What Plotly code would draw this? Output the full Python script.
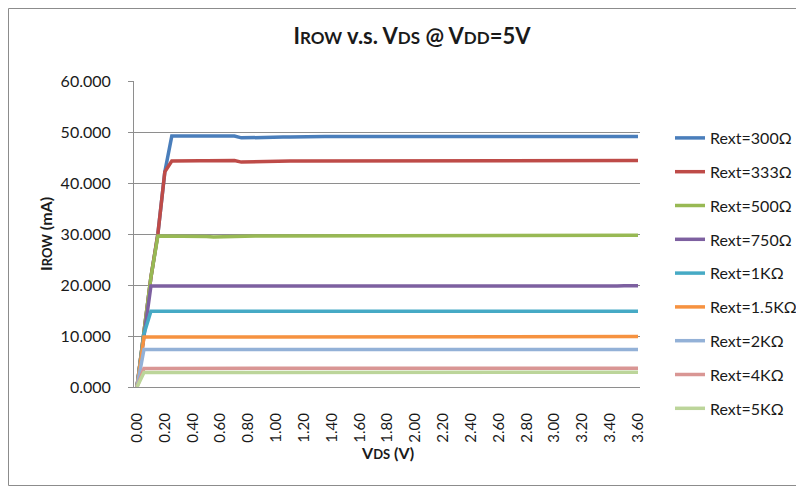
import plotly.graph_objects as go

# ---------------- data ----------------
vds = [0.00, 0.05, 0.10, 0.15, 0.20, 0.25, 0.30, 0.35, 0.40, 0.45,
       0.50, 0.55, 0.60, 0.65, 0.70, 0.75, 0.80, 0.85, 0.90, 0.95,
       1.00, 1.05, 1.10, 1.15, 1.20, 1.25, 1.30, 1.35, 1.40, 1.45,
       1.50, 1.55, 1.60, 1.65, 1.70, 1.75, 1.80, 1.85, 1.90, 1.95,
       2.00, 2.05, 2.10, 2.15, 2.20, 2.25, 2.30, 2.35, 2.40, 2.45,
       2.50, 2.55, 2.60, 2.65, 2.70, 2.75, 2.80, 2.85, 2.90, 2.95,
       3.00, 3.05, 3.10, 3.15, 3.20, 3.25, 3.30, 3.35, 3.40, 3.45,
       3.50, 3.55, 3.60]

rext_300 = [0.0, 10.4, 21.5, 30.0, 42.2, 49.2, 49.2, 49.2, 49.15, 49.2,
            49.2, 49.2, 49.2, 49.2, 49.2, 48.85, 48.9, 48.95, 48.95, 49.0,
            49.0, 49.0, 49.0, 49.05, 49.05, 49.05, 49.05, 49.1, 49.1, 49.1,
            49.1, 49.1, 49.1, 49.1, 49.1, 49.1, 49.1, 49.1, 49.1, 49.1,
            49.1, 49.1, 49.1, 49.1, 49.1, 49.1, 49.1, 49.1, 49.1, 49.1,
            49.1, 49.1, 49.1, 49.1, 49.1, 49.1, 49.1, 49.1, 49.1, 49.1,
            49.1, 49.1, 49.1, 49.1, 49.1, 49.1, 49.1, 49.1, 49.1, 49.1,
            49.1, 49.1, 49.1]

rext_333 = [0.0, 10.4, 21.5, 30.0, 42.2, 44.3, 44.35, 44.35, 44.3, 44.35,
            44.35, 44.35, 44.35, 44.4, 44.4, 44.1, 44.15, 44.2, 44.2, 44.25,
            44.25, 44.3, 44.3, 44.3, 44.3, 44.3, 44.35, 44.35, 44.35, 44.35,
            44.35, 44.35, 44.35, 44.35, 44.35, 44.35, 44.35, 44.35, 44.35, 44.35,
            44.35, 44.35, 44.35, 44.35, 44.35, 44.35, 44.35, 44.35, 44.35, 44.35,
            44.35, 44.35, 44.35, 44.35, 44.35, 44.35, 44.35, 44.35, 44.35, 44.35,
            44.35, 44.35, 44.35, 44.35, 44.35, 44.35, 44.35, 44.4, 44.4, 44.4,
            44.4, 44.4, 44.4]

rext_500 = [0.0, 10.4, 21.5, 29.6, 29.6, 29.6, 29.6, 29.6, 29.55, 29.55,
            29.5, 29.4, 29.45, 29.55, 29.6, 29.6, 29.6, 29.6, 29.6, 29.6,
            29.6, 29.6, 29.6, 29.6, 29.6, 29.6, 29.6, 29.6, 29.6, 29.6,
            29.6, 29.6, 29.6, 29.6, 29.6, 29.6, 29.6, 29.6, 29.6, 29.6,
            29.6, 29.6, 29.6, 29.6, 29.6, 29.6, 29.6, 29.6, 29.6, 29.6,
            29.6, 29.6, 29.6, 29.6, 29.6, 29.6, 29.6, 29.6, 29.6, 29.6,
            29.6, 29.6, 29.6, 29.6, 29.6, 29.65, 29.7, 29.7, 29.7, 29.7,
            29.75, 29.75, 29.75]

rext_750 = [0.0, 10.4, 19.8, 19.8, 19.8, 19.8, 19.8, 19.8, 19.8, 19.75,
            19.7, 19.65, 19.7, 19.75, 19.75, 19.75, 19.75, 19.75, 19.75, 19.75,
            19.75, 19.75, 19.75, 19.75, 19.75, 19.75, 19.75, 19.75, 19.75, 19.75,
            19.75, 19.75, 19.75, 19.75, 19.75, 19.75, 19.75, 19.75, 19.75, 19.75,
            19.75, 19.75, 19.75, 19.75, 19.75, 19.75, 19.75, 19.75, 19.75, 19.75,
            19.75, 19.75, 19.75, 19.75, 19.75, 19.75, 19.75, 19.75, 19.75, 19.75,
            19.75, 19.75, 19.75, 19.75, 19.75, 19.75, 19.75, 19.8, 19.8, 19.8,
            19.85, 19.85, 19.85]

rext_1k = [0.0, 10.4, 14.85, 14.85, 14.85, 14.85, 14.85, 14.8, 14.75, 14.7,
           14.7, 14.75, 14.8, 14.85, 14.85, 14.85, 14.85, 14.85, 14.85, 14.85,
           14.85, 14.85, 14.85, 14.85, 14.85, 14.85, 14.85, 14.85, 14.85, 14.85,
           14.85, 14.85, 14.85, 14.85, 14.85, 14.85, 14.85, 14.85, 14.85, 14.85,
           14.85, 14.85, 14.85, 14.85, 14.85, 14.85, 14.85, 14.85, 14.85, 14.85,
           14.85, 14.85, 14.85, 14.85, 14.85, 14.85, 14.85, 14.85, 14.85, 14.85,
           14.85, 14.85, 14.85, 14.85, 14.85, 14.85, 14.85, 14.85, 14.85, 14.85,
           14.85, 14.85, 14.85]

rext_1k5 = [0.0, 9.8, 9.8, 9.8, 9.8, 9.8, 9.8, 9.75, 9.75, 9.75,
            9.75, 9.8, 9.8, 9.8, 9.8, 9.8, 9.8, 9.8, 9.8, 9.8,
            9.8, 9.8, 9.8, 9.8, 9.8, 9.8, 9.8, 9.8, 9.8, 9.8,
            9.8, 9.8, 9.8, 9.8, 9.8, 9.8, 9.8, 9.8, 9.8, 9.8,
            9.8, 9.8, 9.8, 9.8, 9.8, 9.8, 9.8, 9.8, 9.8, 9.8,
            9.8, 9.8, 9.8, 9.8, 9.8, 9.8, 9.8, 9.8, 9.8, 9.8,
            9.8, 9.8, 9.8, 9.8, 9.85, 9.9, 9.9, 9.9, 9.9, 9.9,
            9.9, 9.9, 9.9]

rext_2k = [0.0, 7.35, 7.35, 7.35, 7.35, 7.35, 7.3, 7.3, 7.25, 7.25,
           7.3, 7.35, 7.35, 7.35, 7.35, 7.35, 7.35, 7.35, 7.35, 7.35,
           7.35, 7.35, 7.35, 7.35, 7.35, 7.35, 7.35, 7.35, 7.35, 7.35,
           7.35, 7.35, 7.35, 7.35, 7.35, 7.35, 7.35, 7.35, 7.35, 7.35,
           7.35, 7.35, 7.35, 7.35, 7.35, 7.35, 7.35, 7.35, 7.35, 7.35,
           7.35, 7.35, 7.35, 7.35, 7.35, 7.35, 7.35, 7.35, 7.35, 7.35,
           7.35, 7.35, 7.35, 7.35, 7.35, 7.35, 7.35, 7.35, 7.35, 7.35,
           7.35, 7.35, 7.35]

rext_4k = [0.0, 3.65, 3.65, 3.65, 3.65, 3.65, 3.65, 3.65, 3.65, 3.65,
           3.65, 3.65, 3.65, 3.65, 3.65, 3.65, 3.65, 3.65, 3.65, 3.65,
           3.65, 3.65, 3.65, 3.65, 3.65, 3.65, 3.65, 3.65, 3.65, 3.65,
           3.65, 3.65, 3.65, 3.65, 3.65, 3.65, 3.65, 3.65, 3.65, 3.65,
           3.65, 3.65, 3.65, 3.65, 3.65, 3.65, 3.65, 3.65, 3.65, 3.65,
           3.65, 3.65, 3.65, 3.65, 3.65, 3.65, 3.65, 3.65, 3.65, 3.65,
           3.65, 3.65, 3.65, 3.65, 3.65, 3.65, 3.65, 3.65, 3.65, 3.65,
           3.7, 3.7, 3.7]

rext_5k = [0.0, 2.85, 2.85, 2.85, 2.85, 2.85, 2.85, 2.85, 2.85, 2.85,
           2.85, 2.85, 2.85, 2.9, 2.9, 2.9, 2.9, 2.9, 2.9, 2.9,
           2.9, 2.9, 2.9, 2.9, 2.9, 2.9, 2.9, 2.9, 2.9, 2.9,
           2.9, 2.9, 2.9, 2.9, 2.9, 2.9, 2.9, 2.9, 2.9, 2.9,
           2.9, 2.9, 2.9, 2.9, 2.9, 2.9, 2.9, 2.9, 2.9, 2.9,
           2.9, 2.9, 2.9, 2.9, 2.9, 2.9, 2.9, 2.9, 2.9, 2.9,
           2.9, 2.9, 2.9, 2.9, 2.9, 2.9, 2.9, 2.9, 2.9, 2.9,
           2.9, 2.9, 2.9]

series_names = ["Rext=300Ω", "Rext=333Ω", "Rext=500Ω", "Rext=750Ω", "Rext=1KΩ",
                "Rext=1.5KΩ", "Rext=2KΩ", "Rext=4KΩ", "Rext=5KΩ"]
series_values = [rext_300, rext_333, rext_500, rext_750, rext_1k,
                 rext_1k5, rext_2k, rext_4k, rext_5k]
series_colors = ["#4A7EBB", "#BE4B48", "#98B954", "#7D60A0", "#46AAC5",
                 "#F69240", "#93B1D7", "#D99694", "#BCD59A"]

y_ticks = [0, 10, 20, 30, 40, 50, 60]
x_ticks = [0.0, 0.2, 0.4, 0.6, 0.8, 1.0, 1.2, 1.4, 1.6, 1.8, 2.0,
           2.2, 2.4, 2.6, 2.8, 3.0, 3.2, 3.4, 3.6]

# ---------------- figure ----------------
FONT = "Lato"
OFF = 8                      # page offset of the plot div (body margin)
W, H = 804 - OFF, 489 - OFF
# page coordinates of the plot area
PL, PR, PT, PB = 134, 640, 81, 387
L, R, T, B = PL - OFF, PR - OFF, PT - OFF, PB - OFF
pw, ph = R - L, B - T


def px(xp):
    return (xp - PL) / pw


def py(yp):
    return (PB - yp) / ph


fig = go.Figure()
for name, vals, col in zip(series_names, series_values, series_colors):
    fig.add_trace(go.Scatter(x=vds, y=vals, name=name, mode="lines",
                             legendgroup=name,
                             line=dict(color=col, width=3.5)))

grid = "#8E8E8E"
txt = "#1a1a1a"
fig.update_layout(
    width=W, height=H,
    margin=dict(l=L, r=W - R, t=T, b=H - B, autoexpand=False),
    paper_bgcolor="white", plot_bgcolor="white",
    font=dict(family=FONT, size=15, color=txt),
    showlegend=True,
    legend=dict(x=px(670), xanchor="left", y=py(121), yanchor="top",
                font=dict(family=FONT, size=16, color=txt),
                tracegroupgap=10, bgcolor="rgba(0,0,0,0)"),
    xaxis=dict(range=[-3 / 139.2, 3.6 + 2 / 139.2], tickvals=x_ticks,
               ticktext=["%.2f" % v for v in x_ticks], tickangle=-90,
               showgrid=False, zeroline=False, showline=True, linecolor=grid,
               linewidth=1, ticks="", ticklabelstandoff=19,
               tickfont=dict(family=FONT, size=15, color=txt)),
    yaxis=dict(range=[0, 60], tickvals=y_ticks,
               ticktext=["%.3f" % v for v in y_ticks],
               showgrid=True, gridcolor=grid, gridwidth=1, zeroline=False,
               showline=True, linecolor=grid, linewidth=1,
               ticks="outside", ticklen=5, tickcolor=grid,
               ticklabelstandoff=14,
               tickfont=dict(family=FONT, size=16, color=txt)),
    title=dict(
        text="I<span style='font-size:17px'>ROW</span> v.s. V<span style='font-size:17px'>DS</span>"
             " @ V<span style='font-size:17px'>DD</span>=5V",
        font=dict(family=FONT, size=22, color=txt, weight="bold"),
        x=px(412), xref="paper", xanchor="center",
        y=1 - (36 - OFF) / H, yref="container", yanchor="middle"),
)

fig.add_annotation(text="<b>I<span style='font-size:13px'>ROW</span> (mA)</b>",
                   xref="paper", yref="paper", x=px(45), y=py(234),
                   xanchor="center", yanchor="middle", textangle=-90, showarrow=False,
                   font=dict(family=FONT, size=16, color=txt))
fig.add_annotation(text="<b>V<span style='font-size:13px'>DS</span> (V)</b>",
                   xref="paper", yref="paper", x=px(387), y=py(452),
                   xanchor="center", yanchor="middle", showarrow=False,
                   font=dict(family=FONT, size=16, color=txt))

# outer chart border (left/top edges limited to the visible page area)
fig.add_shape(type="rect", xref="paper", yref="paper",
              x0=px(OFF + 0.5), x1=px(800.5), y0=py(485.5), y1=py(OFF + 0.5),
              line=dict(color="#8C8C8C", width=1), layer="below")

fig.write_html("out.html")
